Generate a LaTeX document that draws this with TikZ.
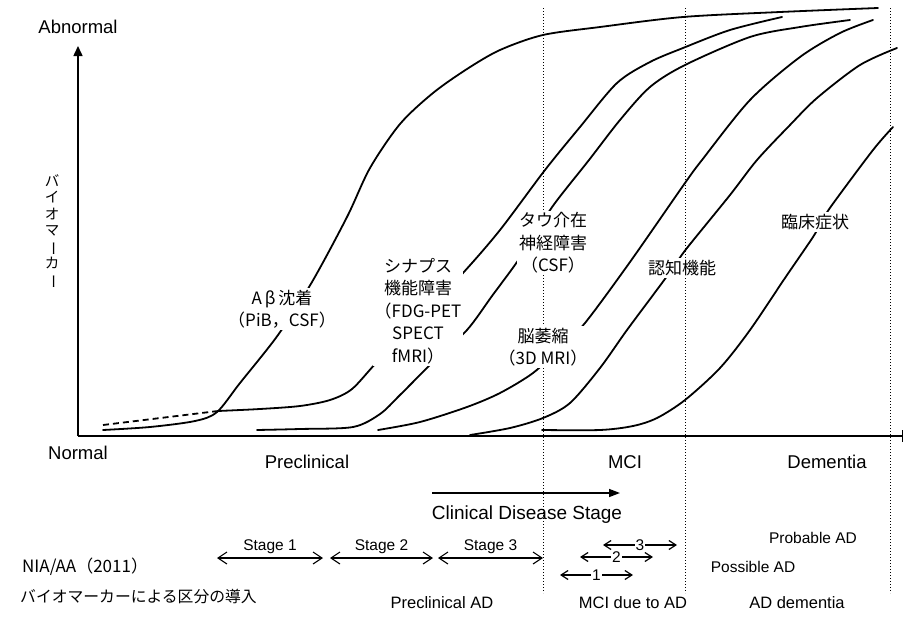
\documentclass[tikz,border=0pt]{standalone}
\usepackage{fontspec}
\setmainfont{Liberation Sans}
\newfontfamily\jp{Noto Sans CJK JP}
\usetikzlibrary{arrows.meta}

\newcommand{\vbar}{\rotatebox[origin=c]{-90}{ー}}

\tikzset{
  crv/.style={line width=1.8pt, line cap=round},
  dotv/.style={line width=0.9pt, dash pattern=on 1.2pt off 1.8pt},
  en/.style={font=\fontsize{18.5}{22}\selectfont, inner sep=0pt},
  enb/.style={font=\fontsize{16.5}{20}\selectfont, inner sep=0pt},
  sm/.style={font=\fontsize{15.5}{18}\selectfont, inner sep=0pt},
  ja/.style={font=\jp\fontsize{17}{22.5}\selectfont, align=center, fill=white, inner sep=2pt},
  stg/.style={line width=1.1pt, {Straight Barb[length=9pt,width=12pt]}-{Straight Barb[length=9pt,width=12pt]}},
  mstg/.style={line width=1.2pt, {Straight Barb[length=7pt,width=9pt]}-{Straight Barb[length=7pt,width=9pt]}},
  num/.style={font=\fontsize{15.5}{18}\selectfont, fill=white, inner sep=1pt},
}

\begin{document}
\begin{tikzpicture}[x=1pt,y=-1pt]
\useasboundingbox (0,0) rectangle (905,616);

% stage borders
\foreach \xx in {543,685,890}
  \draw[dotv] (\xx,8) -- (\xx,593);

% axes
\coordinate (org) at (78,436);
\coordinate (ytop) at (78,46);
\coordinate (xend) at (903,436);
\draw[line width=1.5pt,-{Triangle[length=10pt,width=9pt]}] (org) -- (ytop);
\draw[line width=1.5pt,-{Bar[width=12pt]}] (org) -- (xend);

% biomarker curves
\draw[crv,dash pattern=on 6pt off 4pt,line cap=butt] (103,425) -- (218,411);
\draw[crv] plot[smooth] coordinates {(103,430) (150,427) (195,421) (217,412) (240,383)
  (278,335) (312,282) (347,217) (370,168) (400,124) (433,93) (467,69) (500,50)
  (543,35) (600,27) (683,17) (780,12) (878,8)};
\draw[crv] plot[smooth] coordinates {(218,411) (260,409) (300,406) (330,400) (352,389)
  (377,362) (420,318) (463,273) (500,230) (545,170) (580,127) (617,83) (650,62)
  (683,48) (730,30) (782,17)};
\draw[crv] plot[smooth] coordinates {(257,430) (300,429) (353,427) (380,414) (400,395)
  (433,362) (467,330) (492,296) (517,262) (536,232) (555,203) (589,160) (620,120)
  (650,87) (685,65) (750,37) (800,27) (850,20)};
\draw[crv] plot[smooth] coordinates {(378,430) (420,422) (467,407) (500,393) (533,373)
  (560,348) (585,323) (630,262) (685,183) (702,160) (750,100) (800,57) (840,33)
  (873,20)};
\draw[crv] plot[smooth] coordinates {(470,435) (510,428) (543,418) (570,403) (600,368)
  (627,330) (662,283) (675,265) (687,248) (730,195) (757,160) (790,125) (817,98)
  (860,65) (897,48)};
\draw[crv] plot[smooth] coordinates {(542,430) (600,430) (633,426) (657,418) (685,400)
  (720,368) (750,330) (785,278) (813,237) (822,221) (832,205) (873,150) (893,127)};

% curve labels
\node[ja] (abeta) at (282,309) {A\,β\,沈着\\（PiB，CSF）};
\node[ja] (synap) at (418,311) {シナプス\\機能障害\\（FDG-PET\\SPECT\\fMRI）};
\node[ja] (tau) at (553,243) {タウ介在\\神経障害\\（CSF）};
\node[ja] (atrop) at (543,347) {脳萎縮\\（3D MRI）};
\node[ja] (cogn) at (682,268) {認知機能};
\node[ja] (clin) at (815,222) {臨床症状};

% axis labels
\node[en] (abn) at (78,27) {Abnormal};
\node[en] (nrm) at (78,453) {Normal};
\node[font=\jp\fontsize{14.5}{16.5}\selectfont, align=center, inner sep=0pt] (bmv) at (52,232)
  {バ\\イ\\オ\\マ\\\vbar\\カ\\\vbar};
\node[en] (precl) at (307,462) {Preclinical};
\node[en] (mci) at (625,462) {MCI};
\node[en] (dem) at (827,462) {Dementia};

% clinical stage arrow
\coordinate (cda) at (432,493);
\coordinate (cdb) at (620,493);
\draw[line width=1.5pt,-{Triangle[length=11pt,width=8pt]}] (cda) -- (cdb);
\node[font=\fontsize{19}{22}\selectfont, inner sep=0pt] (cds) at (527,515) {Clinical Disease Stage};

% NIA/AA stages
\node[ja, fill=none, anchor=west, inner sep=0pt] (nia) at (22,567) {NIA/AA（2011）};
\node[font=\jp\fontsize{15.8}{18}\selectfont, anchor=west, inner sep=0pt] (bmk) at (20,597)
  {バイオマーカーによる区分の導入};
\foreach \i/\xa/\xb in {1/217/323, 2/330/433, 3/438/543} {
  \coordinate (s\i a) at (\xa,558);
  \coordinate (s\i b) at (\xb,558);
  \draw[stg] (s\i a) -- node[sm, above=4pt] (st\i) {Stage \i} (s\i b);
}
\foreach \i/\xa/\xb/\yy in {1/560/633/575, 2/580/653/557, 3/603/677/545} {
  \coordinate (m\i a) at (\xa,\yy);
  \coordinate (m\i b) at (\xb,\yy);
  \draw[mstg] (m\i a) -- node[num] (n\i) {\i} (m\i b);
}
\node[sm] (prob) at (813,538) {Probable AD};
\node[sm] (poss) at (753,567) {Possible AD};

% bottom names
\node[enb] (pad) at (442,603) {Preclinical AD};
\node[enb] (mad) at (633,603) {MCI due to AD};
\node[enb] (add) at (797,603) {AD dementia};
\end{tikzpicture}
\end{document}
